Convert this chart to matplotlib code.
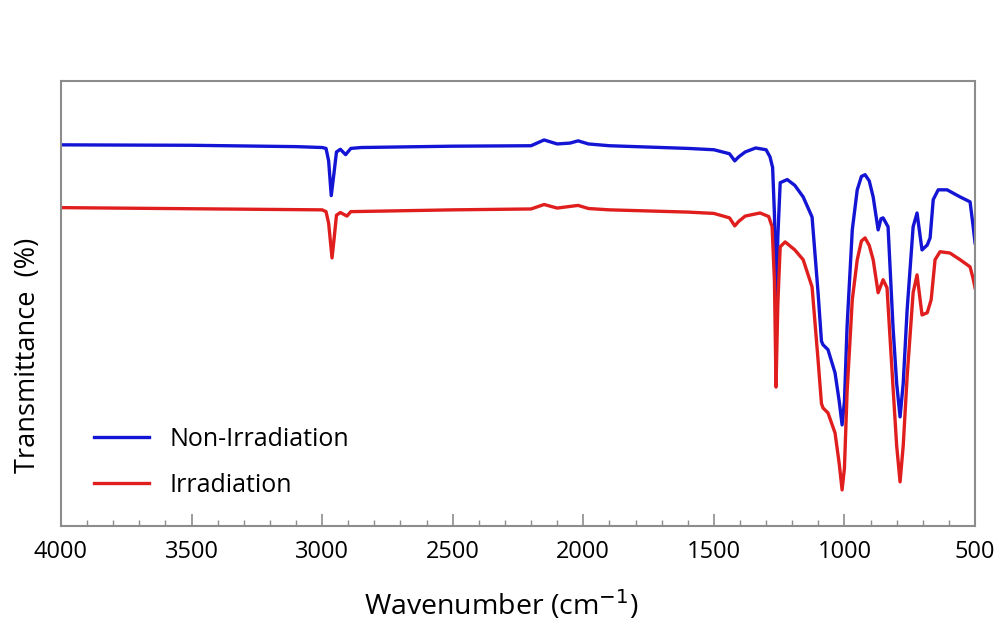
import matplotlib
matplotlib.use("Agg")
import matplotlib.pyplot as plt
from matplotlib.ticker import MultipleLocator

# ---------------------------------------------------------------------------
# Data
# ---------------------------------------------------------------------------

wn_blue = [4000, 3500, 3100, 3000, 2985, 2975, 2965, 2955, 2945, 2930, 2910, 2890,
           2850, 2500, 2200, 2150, 2100, 2050, 2020, 1980, 1900, 1700, 1600, 1500,
           1440, 1420, 1405, 1380, 1340, 1300, 1285, 1275, 1268, 1262, 1255, 1246,
           1219, 1190, 1158, 1124, 1101, 1088, 1082, 1063, 1036, 1020, 1009, 1000,
           990, 970, 951, 935, 921, 905, 890, 871, 860, 852, 833, 814, 800, 787,
           775, 760, 737, 722, 703, 683, 672, 660, 641, 607, 557, 519, 507, 500]
t_blue = [85.6, 85.5, 85.2, 85.0, 84.8, 82.0, 74.2, 79.0, 84.0, 84.6, 83.4, 84.8,
          85.0, 85.3, 85.4, 86.7, 85.8, 86.0, 86.5, 85.8, 85.4, 85.0, 84.8, 84.5,
          83.6, 82.0, 82.9, 84.0, 84.9, 84.5, 82.9, 80.5, 70.0, 45.0, 65.0, 77.1,
          77.8, 76.5, 73.9, 69.4, 52.4, 41.5, 40.7, 39.6, 34.4, 28.0, 22.7, 28.0,
          44.7, 66.5, 75.5, 78.5, 78.9, 77.5, 73.9, 66.5, 69.0, 69.2, 67.2, 44.7, 32.0, 24.5,
          32.0, 48.5, 67.2, 70.3, 62.0, 63.1, 64.7, 73.3, 75.5, 75.5, 73.9, 72.8, 67.2, 63.6]

wn_red = [4000, 3000, 2985, 2975, 2962, 2955, 2945, 2930, 2905, 2890, 2500, 2200,
          2150, 2100, 2020, 1980, 1900, 1600, 1500, 1440, 1420, 1405, 1380, 1323,
          1290, 1277, 1268, 1262, 1255, 1246, 1227, 1190, 1158, 1124, 1101, 1088,
          1082, 1063, 1036, 1020, 1009, 1000, 990, 970, 951, 935, 921, 905, 890,
          871, 852, 837, 814, 800, 787, 775, 760, 737, 722, 703, 683, 668, 653,
          634, 596, 557, 519, 507, 500]
t_red = [71.5, 71.0, 70.6, 68.0, 60.2, 64.0, 69.8, 70.4, 69.6, 70.6, 71.0, 71.2,
         72.2, 71.4, 72.0, 71.3, 71.0, 70.5, 70.2, 69.2, 67.4, 68.4, 69.6, 70.3,
         69.5, 67.2, 55.0, 31.2, 50.0, 62.7, 63.8, 62.0, 59.8, 53.7, 37.3, 27.5,
         26.5, 25.4, 20.9, 14.0, 8.1, 13.0, 29.9, 50.8, 59.8, 64.0, 64.7, 63.0, 59.8,
         52.4, 55.3, 53.5, 31.2, 18.0, 9.9, 18.0, 33.5, 52.4, 56.4, 47.4, 47.9, 50.8, 59.8,
         61.6, 61.3, 59.8, 58.2, 55.5, 53.5]

series_labels = ["Non-Irradiation", "Irradiation"]
x_ticks = [4000, 3500, 3000, 2500, 2000, 1500, 1000, 500]

# ---------------------------------------------------------------------------
# Plot
# ---------------------------------------------------------------------------

plt.rcParams["font.family"] = ["Open Sans", "DejaVu Sans"]

fig = plt.figure(figsize=(9.99, 6.21), dpi=100)
ax = fig.add_axes([0.061, 0.153, 0.915, 0.717])

ax.plot(wn_blue, t_blue, color="#1414d4", lw=2.4, label=series_labels[0])
ax.plot(wn_red, t_red, color="#e01e1e", lw=2.4, label=series_labels[1])

ax.set_xlim(4000, 500)
ax.set_ylim(0, 100)
ax.set_xticks(x_ticks)
ax.xaxis.set_minor_locator(MultipleLocator(100))
ax.set_yticks([])

grey = "#8c8c8c"
for s in ax.spines.values():
    s.set_color(grey)
    s.set_linewidth(1.5)
ax.tick_params(axis="x", which="major", direction="in", length=9, width=1.2,
               color=grey, labelsize=17, pad=10)
ax.tick_params(axis="x", which="minor", direction="in", length=4, width=1.0, color=grey)

ax.set_xlabel("Wavenumber (cm$^{-1}$)", fontsize=20.5)
ax.xaxis.set_label_coords(0.482, -0.178)
ax.xaxis.label.set_va("center")
ax.set_ylabel("Transmittance  (%)", fontsize=19.5)
ax.yaxis.set_label_coords(-0.036, 0.384)
ax.yaxis.label.set_va("center")

ax.legend(loc="lower left", frameon=False, fontsize=18, handlelength=2.2,
          handletextpad=0.8, labelspacing=0.83, bbox_to_anchor=(0.012, 0.013))

fig.savefig("out.png", dpi=100)
